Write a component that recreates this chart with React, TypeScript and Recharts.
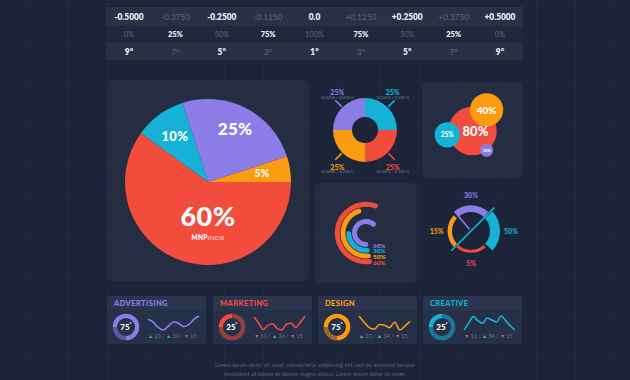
import React from 'react';
import {
  PieChart, Pie, Cell, ScatterChart, Scatter, XAxis, YAxis, ZAxis,
  RadialBarChart, RadialBar, PolarAngleAxis, LineChart, Line, Sector, LabelList,
} from 'recharts';

const RED = '#f24c3d';
const ORANGE = '#fb9b10';
const PURPLE = '#8b7ce7';
const CYAN = '#15b2d6';
const BG = '#1b2438';
const CARD = '#242d42';
const FONT = "Lato, 'Open Sans', sans-serif";
const RAD = Math.PI / 180;

// ---------- top table ----------
const offsetLabels = ['-0.5000', '-0.3750', '-0.2500', '-0.1250', '0.0', '+0.1250', '+0.2500', '+0.3750', '+0.5000'];
const percentLabels = ['0%', '25%', '50%', '75%', '100%', '75%', '50%', '25%', '0%'];
const degreeLabels = ['9°', '7°', '5°', '3°', '1°', '3°', '5°', '7°', '9°'];

// ---------- main pie ----------
const mainPieNames = ['Orange', 'Purple', 'Cyan', 'Red'];
const mainPieValues = [5, 25, 10, 60];
const mainPieColors = [ORANGE, PURPLE, CYAN, RED];
const mainPieCaption = 'MNPINDX';

// ---------- donut ----------
const donutNames = ['Cyan', 'Purple', 'Orange', 'Red'];
const donutValues = [25, 25, 25, 25];
const donutNotes = ['(0.2415 / 0.2357)', '(0.2415 / 0.2357)', '(0.2468 / 0.2357)', '(0.2415 / 0.2357)'];
const donutColors = [CYAN, PURPLE, ORANGE, RED];

// ---------- bubbles ----------
const bubbleValues = [80, 40, 25, 10];
const bubbleX = [50, 64, 25, 64];
const bubbleY = [49, 71, 45, 29];
const bubbleColors = [RED, ORANGE, CYAN, PURPLE];
const bubbleFont = [13, 10, 6.5, 4];

// ---------- radial bars ----------
const radialNames = ['Purple', 'Cyan', 'Orange', 'Red'];
const radialValues = [68, 30, 50, 60];
const radialColors = [PURPLE, CYAN, ORANGE, RED];

// ---------- gauge ----------
const gaugeNames = ['Cyan', 'Purple', 'Orange', 'Red'];
const gaugeValues = [50, 30, 15, 5];
const gaugeColors = [CYAN, PURPLE, ORANGE, RED];

// ---------- bottom cards ----------
const cardTitles = ['ADVERTISING', 'MARKETING', 'DESIGN', 'CREATIVE'];
const cardScores = [75, 25, 75, 25];
const cardColors = [PURPLE, RED, ORANGE, CYAN];
const cardStats = [[23, 34, 15], [11, 34, 15], [23, 34, 15], [11, 34, 15]];
const cardTrends = [['up', 'up', 'down'], ['down', 'up', 'down'], ['up', 'up', 'down'], ['down', 'up', 'down']];
const sparkAdvertising = [28, 24, 16, 12, 18, 24, 22, 17, 20, 28, 33];
const sparkMarketing = [38, 26, 14, 22, 25, 16, 13, 24, 26, 18, 28, 40];
const sparkDesign = [35, 27, 20, 18, 24, 23, 20, 27, 17, 22, 28];
const sparkCreative = [12, 22, 32, 26, 22, 30, 27, 24, 33, 26, 18, 12];
const sparks = [sparkAdvertising, sparkMarketing, sparkDesign, sparkCreative];

const footerLines = [
  'Lorem ipsum dolor sit amet, consectetur adipiscing elit, sed do eiusmod tempor',
  'incididunt ut labore et dolore magna aliqua. Lorem ipsum dolor sit amet,',
];

// ---------- built tables ----------
const tableData = offsetLabels.map((o, i) => ({ offset: o, percent: percentLabels[i], degree: degreeLabels[i] }));
const mainPieData = mainPieNames.map((n, i) => ({ name: n, value: mainPieValues[i] }));
const donutData = donutNames.map((n, i) => ({ name: n, value: donutValues[i] }));
const bubbleData = bubbleValues.map((v, i) => ({ x: bubbleX[i], y: bubbleY[i], v }));
const radialData = radialNames.map((n, i) => ({ name: n, value: radialValues[i] }));
const gaugeData = gaugeNames.map((n, i) => ({ name: n, value: gaugeValues[i] }));

const BRIGHT = '#e8ecf5';
const DIM = '#5d6881';

const abs = (left: number, top: number, width: number, height: number, extra: any = {}) => ({
  position: 'absolute' as const, left, top, width, height, ...extra,
});

const tableTick = (p: any, row: number) => {
  const idx = p.index ?? p.payload?.index ?? 0;
  const bright = idx % 2 === 0;
  const dy = row === 0 ? -9.5 : 8.5;
  return (
    <text x={p.x} y={p.y + dy} textAnchor="middle" dominantBaseline="central"
      fill={bright ? BRIGHT : DIM} fontSize={8.3} fontWeight={bright ? 800 : 400} fontFamily={FONT}>
      {p.payload.value}
    </text>
  );
};

const percentContent = (p: any) => {
  const bright = p.index % 2 === 1;
  return (
    <text x={p.x} y={p.y} textAnchor="middle" dominantBaseline="central"
      fill={bright ? BRIGHT : DIM} fontSize={7.5} fontWeight={bright ? 800 : 400} fontFamily={FONT}>
      {p.value}
    </text>
  );
};

const mainLabelStyle = [
  { r: 0.66, size: 10.5 },
  { r: 0.72, size: 17 },
  { r: 0.68, size: 13 },
  { r: 0.4, size: 27 },
];

const renderMainLabel = (p: any) => {
  const { cx, cy, midAngle, outerRadius, index } = p;
  const st = mainLabelStyle[index];
  const v = mainPieValues[index];
  if (v > 50) {
    const y = cy + outerRadius * st.r;
    return (
      <g>
        <text x={cx} y={y} textAnchor="middle" dominantBaseline="central" fill="#fff"
          fontSize={st.size} fontWeight={900} fontFamily={FONT} letterSpacing={0.5}>{v}%</text>
        <text x={cx} y={y + 22} textAnchor="middle" dominantBaseline="central" fill="#fff"
          fontSize={6.5} fontFamily={FONT} letterSpacing={0.3}>
          <tspan fontWeight={900}>{mainPieCaption.slice(0, 3)}</tspan>
          <tspan fontWeight={400} fillOpacity={0.85}>{mainPieCaption.slice(3)}</tspan>
        </text>
      </g>
    );
  }
  const x = cx + outerRadius * st.r * Math.cos(-midAngle * RAD);
  const y = cy + outerRadius * st.r * Math.sin(-midAngle * RAD);
  return (
    <text x={x} y={y} textAnchor="middle" dominantBaseline="central" fill="#fff"
      fontSize={st.size} fontWeight={900} fontFamily={FONT} letterSpacing={0.3}>{v}%</text>
  );
};

const renderDonutLabel = (p: any) => {
  const { cx, cy, midAngle, outerRadius, index } = p;
  const c = Math.cos(-midAngle * RAD);
  const s = Math.sin(-midAngle * RAD);
  const x1 = cx + (outerRadius + 1) * c;
  const y1 = cy + (outerRadius + 1) * s;
  const x2 = cx + (outerRadius + 10) * c;
  const y2 = cy + (outerRadius + 10) * s;
  const top = s < 0;
  const tx = x2 + (c < 0 ? 2 : -2);
  const ty = top ? y2 - 8 : y2 + 7;
  const sy = top ? y2 - 3 : y2 + 12;
  const col = donutColors[index];
  return (
    <g>
      <line x1={x1} y1={y1} x2={x2} y2={y2} stroke={col} strokeWidth={1.6} />
      <text x={tx} y={ty} textAnchor="middle" dominantBaseline="central" fill={col}
        fontSize={7} fontWeight={900} fontFamily={FONT}>{donutValues[index]}%</text>
      <text x={tx} y={sy} textAnchor="middle" dominantBaseline="central" fill="#7b849a"
        fontSize={4.2} fontFamily={FONT}>{donutNotes[index]}</text>
    </g>
  );
};

const renderBubbleLabel = (p: any) => {
  const { x, y, width, height, index, value } = p;
  const cx = x + (width || 0) / 2 + (index === 0 ? 3 : 0);
  const cy = y + (height || 0) / 2;
  return (
    <text x={cx} y={cy} textAnchor="middle" dominantBaseline="central" fill="#fff"
      fontSize={bubbleFont[index]} fontWeight={900} fontFamily={FONT}>{value}%</text>
  );
};

const renderRadialShape = (p: any) => {
  const { cx, cy, innerRadius, outerRadius, startAngle, endAngle, payload } = p;
  const i = radialNames.indexOf(payload?.name);
  const col = radialColors[i];
  return (
    <g>
      <Sector cx={cx} cy={cy} innerRadius={innerRadius} outerRadius={outerRadius}
        startAngle={startAngle} endAngle={endAngle} cornerRadius={(outerRadius - innerRadius) / 2}
        forceCornerRadius fill={col} />
      <text x={cx + 7} y={cy + (innerRadius + outerRadius) / 2 + 0.5} textAnchor="start" dominantBaseline="central"
        fill={col} fontSize={6.3} fontWeight={900} fontFamily={FONT}>{payload?.value}%</text>
    </g>
  );
};

const gaugeThickness = (v: number) => 2 + v * 0.16;

const renderGaugeLabel = (p: any, i: number) => {
  const { cx, cy, midAngle, outerRadius, innerRadius } = p;
  const c = Math.cos(-midAngle * RAD);
  const s = Math.sin(-midAngle * RAD);
  const col = gaugeColors[i];
  let x: number, y: number, anchor: string;
  if (Math.abs(c) > 0.7) {
    x = cx + c * (outerRadius + 4);
    y = cy + s * (outerRadius + 4);
    anchor = c > 0 ? 'start' : 'end';
  } else {
    x = cx + c * (outerRadius + 10);
    y = cy + s * (outerRadius + 10);
    anchor = 'middle';
  }
  const needles: any[] = [];
  if (i === 0) {
    const a = -45 + 90 * (i + 1);
    const ca = Math.cos(-a * RAD), sa = Math.sin(-a * RAD);
    const r0 = -(innerRadius + 9), r1 = outerRadius + 4;
    needles.push(<line key="n0" x1={cx + r0 * ca} y1={cy + r0 * sa} x2={cx + r1 * ca} y2={cy + r1 * sa}
      stroke={col} strokeWidth={1.6} />);
  }
  if (i === 1) {
    const a = 130;
    const ca = Math.cos(-a * RAD), sa = Math.sin(-a * RAD);
    needles.push(<line key="n1" x1={cx + 2 * ca} y1={cy + 2 * sa} x2={cx + (innerRadius + 1) * ca} y2={cy + (innerRadius + 1) * sa}
      stroke={col} strokeWidth={1.6} />);
  }
  return (
    <g>
      {needles}
      <text x={x} y={y} textAnchor={anchor} dominantBaseline="central" fill={col}
        fontSize={7} fontWeight={900} fontFamily={FONT}>{gaugeValues[i]}%</text>
    </g>
  );
};

const cardLefts = [107, 213, 318, 423];

function StatCard({ i }: { i: number }) {
  const left = cardLefts[i];
  const col = cardColors[i];
  const score = cardScores[i];
  const ringData = [{ name: 'score', value: score }, { name: 'rest', value: 100 - score }];
  const sparkData = sparks[i].map((v, k) => ({ k, v }));
  return (
    <div style={abs(left, 296, 99, 48, { background: '#263049', borderRadius: 3 })}>
      <div style={abs(0, 0, 99, 14, { background: '#2b3550', borderRadius: '3px 3px 0 0' })} />
      <div style={abs(7, 3, 90, 10, { color: col, fontSize: 7.5, fontWeight: 900, lineHeight: '10px', letterSpacing: 0.4 })}>
        {cardTitles[i]}
      </div>
      <div style={abs(4, 16, 30, 30)}>
        <PieChart width={30} height={30} margin={{ top: 0, right: 0, bottom: 0, left: 0 }}>
          <Pie data={ringData} dataKey="value" cx={15} cy={15} innerRadius={9} outerRadius={13.3}
            startAngle={180} endAngle={-180} stroke="none" isAnimationActive={false} labelLine={false}
            label={(p: any) => (p.index === 0 ? (
              <text x={p.cx} y={p.cy} textAnchor="middle" dominantBaseline="central" fill="#fff"
                fontSize={8} fontWeight={900} fontFamily={FONT}>
                {score}<tspan fontSize={5} dy={-3}>°</tspan>
              </text>
            ) : null)}>
            <Cell fill={col} />
            <Cell fill={col} fillOpacity={0.55} />
          </Pie>
        </PieChart>
      </div>
      <div style={abs(40, 18, 53, 18)}>
        <LineChart width={53} height={18} data={sparkData} margin={{ top: 2, right: 1, bottom: 2, left: 1 }}>
          <YAxis hide domain={['dataMin', 'dataMax']} />
          <XAxis hide dataKey="k" />
          <Line type="monotone" dataKey="v" stroke={col} strokeWidth={1.6} dot={false} isAnimationActive={false} />
        </LineChart>
      </div>
      <div style={abs(41, 36, 58, 8, { fontSize: 5.3, lineHeight: '8px', color: '#6c7690', whiteSpace: 'nowrap' })}>
        {cardStats[i].map((n, k) => (
          <span key={k}>
            <span style={{ color: cardTrends[i][k] === 'up' ? '#2fc49c' : RED }}>{cardTrends[i][k] === 'up' ? '▲' : '▼'}</span>
            {' '}{n}{k < 2 ? ' / ' : ''}
          </span>
        ))}
      </div>
    </div>
  );
}

export default function App() {
  return (
    <div style={{
      position: 'fixed', left: 0, top: 0, width: 630, height: 380, background: BG, overflow: 'hidden',
      fontFamily: FONT,
      backgroundImage: 'linear-gradient(rgba(255,255,255,0.025) 1px, transparent 1px), linear-gradient(90deg, rgba(255,255,255,0.025) 1px, transparent 1px)',
      backgroundSize: '39px 39px',
      backgroundPosition: '29px 4px',
    }}>
      {/* top table */}
      <div style={abs(106, 7, 417, 19, { background: '#283148' })} />
      <div style={abs(106, 26, 417, 17, { background: '#1f283c' })} />
      <div style={abs(106, 43, 417, 17, { background: '#283148' })} />
      <div style={abs(106, 7, 417, 53)}>
        <LineChart width={417} height={53} data={tableData} margin={{ top: 0, right: 0, bottom: 0, left: 0 }}>
          <XAxis xAxisId="top" dataKey="offset" orientation="top" height={19} axisLine={false} tickLine={false}
            tickSize={0} tickMargin={0} interval={0} padding={{ left: 23, right: 23 }} tick={(p: any) => tableTick(p, 0)} />
          <XAxis xAxisId="bottom" dataKey="degree" orientation="bottom" height={17} axisLine={false} tickLine={false}
            tickSize={0} tickMargin={0} interval={0} padding={{ left: 23, right: 23 }} tick={(p: any) => tableTick(p, 2)} />
          <YAxis hide domain={[-1, 1]} />
          <Line xAxisId="top" dataKey={() => 0} stroke="none" dot={false} isAnimationActive={false}>
            <LabelList dataKey="percent" content={percentContent} />
          </Line>
        </LineChart>
      </div>

      {/* main pie card */}
      <div style={abs(107, 80, 202, 201, { background: CARD, borderRadius: 6 })}>
        <PieChart width={202} height={201} margin={{ top: 0, right: 0, bottom: 0, left: 0 }}>
          <Pie data={mainPieData} dataKey="value" cx={101} cy={102} outerRadius={83} startAngle={0} endAngle={360}
            stroke="none" isAnimationActive={false} labelLine={false} label={renderMainLabel}>
            {mainPieData.map((d, i) => <Cell key={d.name} fill={mainPieColors[i]} />)}
          </Pie>
        </PieChart>
      </div>

      {/* donut */}
      <div style={abs(313, 80, 104, 100)}>
        <PieChart width={104} height={100} margin={{ top: 0, right: 0, bottom: 0, left: 0 }}>
          <Pie data={donutData} dataKey="value" cx={52} cy={50} innerRadius={13} outerRadius={32}
            startAngle={0} endAngle={360} stroke="none" isAnimationActive={false} labelLine={false} label={renderDonutLabel}>
            {donutData.map((d, i) => <Cell key={d.name} fill={donutColors[i]} />)}
          </Pie>
        </PieChart>
      </div>

      {/* bubbles */}
      <div style={abs(422, 82, 101, 96, { background: CARD, borderRadius: 5 })}>
        <ScatterChart width={101} height={96} margin={{ top: 0, right: 0, bottom: 0, left: 0 }}>
          <XAxis type="number" dataKey="x" domain={[0, 100]} hide />
          <YAxis type="number" dataKey="y" domain={[0, 100]} hide />
          <ZAxis type="number" dataKey="v" domain={[10, 80]} range={[133, 1850]} />
          <Scatter data={bubbleData} isAnimationActive={false}>
            {bubbleData.map((d, i) => <Cell key={i} fill={bubbleColors[i]} />)}
            <LabelList dataKey="v" content={renderBubbleLabel} />
          </Scatter>
        </ScatterChart>
      </div>

      {/* radial bars */}
      <div style={abs(315, 183, 102, 100, { background: CARD, borderRadius: 5 })}>
        <RadialBarChart width={102} height={100} data={radialData} cx={51} cy={50} innerRadius={9} outerRadius={32}
          startAngle={282} endAngle={-78} barSize={5} margin={{ top: 0, right: 0, bottom: 0, left: 0 }}>
          <PolarAngleAxis type="number" domain={[0, 100]} tick={false} axisLine={false} />
          <RadialBar dataKey="value" isAnimationActive={false} shape={renderRadialShape}>
            {radialData.map((d, i) => <Cell key={d.name} fill={radialColors[i]} />)}
          </RadialBar>
        </RadialBarChart>
      </div>

      {/* gauge */}
      <div style={abs(420, 181, 104, 100)}>
        <PieChart width={104} height={100} margin={{ top: 0, right: 0, bottom: 0, left: 0 }}>
          {gaugeData.map((d, i) => (
            <Pie key={d.name} data={[d]} dataKey="value" cx={51} cy={50}
              startAngle={-45 + 90 * i + 3} endAngle={-45 + 90 * (i + 1) - 3}
              innerRadius={19} outerRadius={19 + gaugeThickness(d.value)} stroke="none"
              isAnimationActive={false} labelLine={false} label={(p: any) => renderGaugeLabel(p, i)}>
              <Cell fill={gaugeColors[i]} />
            </Pie>
          ))}
        </PieChart>
      </div>

      {/* bottom cards */}
      {cardTitles.map((t, i) => <StatCard key={t} i={i} />)}

      {/* footer */}
      <div style={abs(115, 360, 400, 20, { color: '#58627c', fontSize: 5.8, lineHeight: '9px', textAlign: 'center' })}>
        {footerLines.map((l) => <div key={l}>{l}</div>)}
      </div>
    </div>
  );
}
